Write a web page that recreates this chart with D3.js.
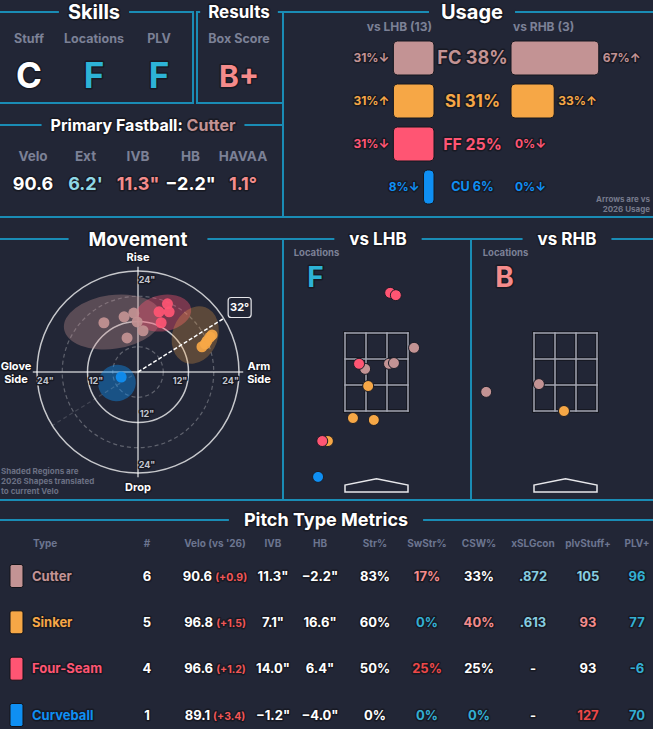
<!DOCTYPE html>
<html>
<head>
<meta charset="utf-8">
<script src="https://cdn.jsdelivr.net/npm/d3@7"></script>
<style>
  body { margin: 0; background: #222636; }
  svg text { font-family: Inter, "Noto Sans", sans-serif; font-weight: 700; }
  .o { stroke: #181a24; stroke-width: 3; paint-order: stroke; stroke-linejoin: round; }
</style>
</head>
<body>
<svg id="chart" width="653" height="729"></svg>
<script>
var skillLabels = ["Stuff", "Locations", "PLV"];
var skillGrades = ["C", "F", "F"];
var resultLabel = "Box Score";
var resultGrade = "B+";

var fastballName = "Cutter";
var fastballLabels = ["Velo", "Ext", "IVB", "HB", "HAVAA"];
var fastballValues = ["90.6", "6.2'", "11.3\"", "−2.2\"", "1.1°"];

var pitchCodes = ["FC", "SI", "FF", "CU"];
var pitchNames = ["Cutter", "Sinker", "Four-Seam", "Curveball"];

var usageAll = [38, 31, 25, 6];
var usageLHB = [31, 31, 31, 8];
var usageRHB = [67, 33, 0, 0];
var arrowsLHB = ["↓", "↑", "↓", "↓"];
var arrowsRHB = ["↑", "↑", "↓", "↓"];
var countLHB = 13, countRHB = 3;

// movement in inches: [HB (arm side +), IVB]
var moveFC = [[-8.1, 11.7], [-3.3, 13.1], [-1.0, 14.0], [-0.2, 11.9], [1.2, 9.8], [-2.6, 8.1]];
var moveSI = [[17.6, 8.8], [17.1, 8.3], [16.4, 7.4], [16.0, 6.7], [15.2, 6.0]];
var moveFF = [[7.0, 16.2], [5.0, 14.3], [7.4, 14.3], [5.5, 11.7]];
var moveCU = [[-4.0, -1.2]];
// 2026 shapes: [HB, IVB, half width, half height, tilt deg]
var shapeFC = [-6.0, 11.9, 11.7, 6.4, -8];
var shapeSI = [13.6, 8.8, 5.4, 7.0, 20];
var shapeFF = [6.0, 14.0, 6.7, 4.3, -10];
var shapeCU = [-5.0, -2.6, 4.5, 4.3, -20];
var armAngle = 32;

// locations in feet: [pitch, plate_x, plate_z]
var locLHB = [
  ["FF", 0.36, 4.53], ["FF", 0.51, 4.47], ["FC", 0.99, 3.12], ["FC", -0.30, 2.58],
  ["FF", -0.46, 2.71], ["FC", 0.33, 2.71], ["FC", 0.46, 2.73], ["SI", -0.22, 2.14],
  ["SI", -0.62, 1.32], ["SI", -0.07, 1.27], ["SI", -1.28, 0.73], ["FF", -1.43, 0.73],
  ["CU", -1.54, -0.19]
];
var locRHB = [["FC", -2.09, 1.99], ["FC", -0.70, 2.19], ["SI", -0.04, 1.50]];
var gradeLHB = "F", gradeRHB = "B";

// pitch type metrics
var tableHeaders = ["#", "Velo (vs '26)", "IVB", "HB", "Str%", "SwStr%", "CSW%", "xSLGcon", "plvStuff+", "PLV+"];
var pitchCounts = ["6", "5", "4", "1"];
var veloValues = ["90.6", "96.8", "96.6", "89.1"];
var veloDiffs = ["(+0.9)", "(+1.5)", "(+1.2)", "(+3.4)"];
var ivbValues = ["11.3\"", "7.1\"", "14.0\"", "−1.2\""];
var hbValues = ["−2.2\"", "16.6\"", "6.4\"", "−4.0\""];
var strPct = ["83%", "60%", "50%", "0%"];
var swStrPct = ["17%", "0%", "25%", "0%"];
var cswPct = ["33%", "40%", "25%", "0%"];
var xslgcon = [".872", ".613", "-", "-"];
var plvStuff = ["105", "93", "93", "127"];
var plvPlus = ["96", "77", "-6", "70"];

// ---- styles ----
var BG = "#222636", LINE = "#1a8cb5", GRAY = "#7c8196", WHITE = "#ffffff";
var pitchColor = { FC: "#c39394", SI: "#f6a746", FF: "#ff5573", CU: "#0f8ff3" };
var tone = { w: WHITE, t: "#33afd3", lb: "#86cde0", p: "#f48c8c", r: "#ee4848", c: "#8fd8e6" };
var gradeTone = { C: WHITE, F: "#2db3d6", B: "#f58b8b", "B+": "#f58b8b" };
var fastballTones = ["w", "c", "p", "w", "p"];
var cellTones = [
  ["w", "w", "w", "w", "p", "w", "lb", "lb", "t"],
  ["w", "w", "w", "w", "t", "p", "lb", "p", "t"],
  ["w", "w", "w", "w", "r", "w", "w", "w", "t"],
  ["w", "w", "w", "w", "t", "t", "w", "r", "t"]
];

var svg = d3.select("#chart");
svg.append("rect").attr("width", 653).attr("height", 729).attr("fill", BG);

// boxed panel with its title sitting on the top border
function panel(x0, y0, x1, y1, title, tx, size, pad) {
  svg.append("rect")
    .attr("x", x0).attr("y", y0).attr("width", x1 - x0).attr("height", y1 - y0)
    .attr("fill", "none").attr("stroke", LINE).attr("stroke-width", 2);
  var bg = svg.append("rect").attr("fill", BG);
  var t = svg.append("text")
    .attr("class", "o").attr("x", tx).attr("y", y0).attr("dy", "0.35em")
    .attr("text-anchor", "middle").attr("font-size", size).attr("fill", WHITE);
  title.forEach(function(p) { t.append("tspan").attr("fill", p[1]).text(p[0]); });
  var w = t.node().getComputedTextLength();
  bg.attr("x", tx - w / 2 - pad).attr("y", y0 - 3).attr("width", w + 2 * pad).attr("height", 6);
}

function label(x, y, txt, size, color, anchor, outline) {
  return svg.append("text")
    .attr("class", outline ? "o" : null)
    .attr("x", x).attr("y", y).attr("dy", "0.35em")
    .attr("text-anchor", anchor || "middle")
    .attr("font-size", size).attr("fill", color).text(txt);
}

// ---- top row ----
panel(-5, 12, 193, 103, [["Skills", WHITE]], 94, 20, 9);
panel(197, 12, 283, 103, [["Results", WHITE]], 239, 17, 8);
panel(-5, 125, 283, 217, [["Primary Fastball: ", WHITE], [fastballName, pitchColor.FC]], 143, 16, 9);
panel(283, 12, 660, 217, [["Usage", WHITE]], 472, 20, 12);

var skillX = d3.scalePoint().domain(skillLabels).range([29, 159]);
skillLabels.forEach(function(s, i) {
  label(skillX(s), 39, s, 12.5, GRAY);
  label(skillX(s), 76, skillGrades[i], 35, gradeTone[skillGrades[i]], "middle", true);
});
label(239, 39, resultLabel, 12.5, GRAY);
label(239, 76, resultGrade, 30, gradeTone[resultGrade], "middle", true);

var fbX = d3.scalePoint().domain(fastballLabels).range([33, 243]);
fastballLabels.forEach(function(s, i) {
  label(fbX(s), 156, s, 13.5, GRAY);
  label(fbX(s), 184, fastballValues[i], 18, tone[fastballTones[i]], "middle", true);
});

// usage bars
var uW = d3.scaleLinear().domain([0, 100]).range([0, 131]);
var uY = d3.scaleBand().domain(pitchCodes).range([41, 204]).paddingInner(9 / 43);
var uSize = d3.scaleLinear().domain([0, 40]).range([11.5, 18.5]);
var lhbEdge = 434, rhbEdge = 511;

label(lhbEdge - 2, 27, "vs LHB (" + countLHB + ")", 12, GRAY, "end");
label(rhbEdge + 2, 27, "vs RHB (" + countRHB + ")", 12, GRAY, "start");

var rows = svg.append("g").selectAll("g").data(pitchCodes).enter().append("g");
rows.append("rect")
  .attr("x", function(d, i) { return lhbEdge - uW(usageLHB[i]); })
  .attr("y", function(d) { return uY(d); })
  .attr("width", function(d, i) { return uW(usageLHB[i]); })
  .attr("height", uY.bandwidth())
  .attr("rx", 4).attr("fill", function(d) { return pitchColor[d]; })
  .attr("stroke", "#15171f").attr("stroke-width", 1);
rows.append("rect")
  .attr("x", rhbEdge)
  .attr("y", function(d) { return uY(d); })
  .attr("width", function(d, i) { return uW(usageRHB[i]); })
  .attr("height", uY.bandwidth())
  .attr("rx", 4).attr("fill", function(d) { return pitchColor[d]; })
  .attr("stroke", "#15171f").attr("stroke-width", 1)
  .style("display", function(d, i) { return usageRHB[i] > 0 ? null : "none"; });
pitchCodes.forEach(function(d, i) {
  var cy = uY(d) + uY.bandwidth() / 2;
  label(lhbEdge - uW(usageLHB[i]) - 4, cy, usageLHB[i] + "%" + arrowsLHB[i], 12, pitchColor[d], "end", true);
  label(rhbEdge + uW(usageRHB[i]) + 4, cy, usageRHB[i] + "%" + arrowsRHB[i], 12, pitchColor[d], "start", true);
  label(472.5, cy, d + " " + usageAll[i] + "%", uSize(usageAll[i]), pitchColor[d], "middle", true);
});
label(650, 199, "Arrows are vs", 8, "#767a8c", "end");
label(650, 209, "2026 Usage", 8, "#767a8c", "end");

// ---- movement ----
panel(-5, 239, 283, 500, [["Movement", WHITE]], 138, 19, 20);
panel(283, 239, 471, 500, [["vs LHB", WHITE]], 378, 17, 15);
panel(471, 239, 660, 500, [["vs RHB", WHITE]], 567, 17, 15);

var mcx = 138, mcy = 372, mR = 101;
var mx = d3.scaleLinear().domain([-24, 24]).range([mcx - mR, mcx + mR]);
var my = d3.scaleLinear().domain([-24, 24]).range([mcy + mR, mcy - mR]);
var mv = svg.append("g");

[6, 18].forEach(function(r) {
  mv.append("circle").attr("cx", mcx).attr("cy", mcy).attr("r", mx(r) - mx(0))
    .attr("fill", "none").attr("stroke", "rgba(255,255,255,0.28)").attr("stroke-width", 1.2)
    .attr("stroke-dasharray", "4,3");
});
[12, 24].forEach(function(r) {
  mv.append("circle").attr("cx", mcx).attr("cy", mcy).attr("r", mx(r) - mx(0))
    .attr("fill", "none").attr("stroke", "rgba(255,255,255,0.75)").attr("stroke-width", 1.5);
});
mv.append("line").attr("x1", mx(-25)).attr("x2", mx(25)).attr("y1", mcy).attr("y2", mcy)
  .attr("stroke", "rgba(255,255,255,0.7)").attr("stroke-width", 1.5);
mv.append("line").attr("y1", my(25)).attr("y2", my(-25)).attr("x1", mcx).attr("x2", mcx)
  .attr("stroke", "rgba(255,255,255,0.7)").attr("stroke-width", 1.5);

[-24, -12, 12, 24].forEach(function(v) {
  var inward = v < 0 ? 2 : -2;
  label(mx(v + inward), mcy + 9, Math.abs(v) + "\"", 9, "#c3c6d0", "middle", true);
  if (v !== 12) label(mcx + 9, my(v + inward), Math.abs(v) + "\"", 9, "#c3c6d0", "middle", true);
});

// shaded regions
[["FC", shapeFC, 0.34], ["FF", shapeFF, 0.38], ["SI", shapeSI, 0.27], ["CU", shapeCU, 0.42]].forEach(function(s) {
  var e = s[1];
  mv.append("ellipse")
    .attr("cx", mx(e[0])).attr("cy", my(e[1]))
    .attr("rx", mx(e[2]) - mx(0)).attr("ry", my(0) - my(e[3]))
    .attr("transform", "rotate(" + e[4] + "," + mx(e[0]) + "," + my(e[1]) + ")")
    .attr("fill", pitchColor[s[0]]).attr("fill-opacity", s[2]);
});

var rad = armAngle * Math.PI / 180;
mv.append("line")
  .attr("x1", mcx).attr("y1", mcy)
  .attr("x2", mx(-25 * Math.cos(rad))).attr("y2", my(-25 * Math.sin(rad)))
  .attr("stroke", "rgba(255,255,255,0.15)").attr("stroke-width", 1.2).attr("stroke-dasharray", "4,3");
mv.append("line")
  .attr("x1", mcx).attr("y1", mcy)
  .attr("x2", mx(24 * Math.cos(rad))).attr("y2", my(24 * Math.sin(rad)))
  .attr("stroke", WHITE).attr("stroke-width", 1.5).attr("stroke-dasharray", "4,2");

var moveAll = [["FC", moveFC], ["FF", moveFF], ["SI", moveSI], ["CU", moveCU]];
moveAll.forEach(function(m) {
  mv.append("g").selectAll("circle").data(m[1]).enter().append("circle")
    .attr("cx", function(d) { return mx(d[0]); })
    .attr("cy", function(d) { return my(d[1]); })
    .attr("r", 5.5).attr("fill", pitchColor[m[0]]).attr("fill-opacity", 0.92);
});

var bx = mx(24 * Math.cos(rad)) + 16, by = my(24 * Math.sin(rad)) - 11;
mv.append("rect").attr("x", bx - 11.5).attr("y", by - 10).attr("width", 23).attr("height", 20)
  .attr("rx", 3).attr("fill", BG).attr("stroke", "#e6e6ea").attr("stroke-width", 1.2);
label(bx, by, armAngle + "°", 11, WHITE);

label(mcx, my(24) - 14, "Rise", 11, WHITE, "middle", true);
label(mcx, my(-24) + 14, "Drop", 11, WHITE, "middle", true);
label(16, mcy - 6, "Glove", 11, WHITE, "middle", true);
label(16, mcy + 7, "Side", 11, WHITE, "middle", true);
label(259, mcy - 6, "Arm", 11, WHITE, "middle", true);
label(259, mcy + 7, "Side", 11, WHITE, "middle", true);
label(1, 471, "Shaded Regions are", 8, "#6b7083", "start");
label(1, 481, "2026 Shapes translated", 8, "#6b7083", "start");
label(1, 491, "to current Velo", 8, "#6b7083", "start");

// ---- locations ----
function locations(cx, pts, grade) {
  var lx = d3.scaleLinear().domain([-0.83, 0.83]).range([cx - 31.5, cx + 31.5]);
  var ly = d3.scaleLinear().domain([1.5, 3.5]).range([411, 333]);
  var g = svg.append("g");
  label(cx - 60, 253, "Locations", 9.5, GRAY);
  label(cx - 61, 277, grade, 28, gradeTone[grade], "middle", true);
  var xs = d3.range(4).map(function(i) { return -0.83 + i * 1.66 / 3; });
  var zs = d3.range(4).map(function(i) { return 1.5 + i * 2 / 3; });
  [["#14161e", 3.5], ["#a3a6b3", 1.5]].forEach(function(st) {
    xs.forEach(function(x) {
      g.append("line").attr("x1", lx(x)).attr("x2", lx(x)).attr("y1", ly(1.5)).attr("y2", ly(3.5))
        .attr("stroke", st[0]).attr("stroke-width", st[1]).attr("stroke-linecap", "square");
    });
    zs.forEach(function(z) {
      g.append("line").attr("y1", ly(z)).attr("y2", ly(z)).attr("x1", lx(-0.83)).attr("x2", lx(0.83))
        .attr("stroke", st[0]).attr("stroke-width", st[1]).attr("stroke-linecap", "square");
    });
  });
  var plate = [[-0.83, -0.58], [0.83, -0.58], [0.83, -0.40], [0, -0.24], [-0.83, -0.40]];
  g.append("polygon")
    .attr("points", plate.map(function(p) { return lx(p[0]) + "," + ly(p[1]); }).join(" "))
    .attr("fill", "none").attr("stroke", "#e8e8ec").attr("stroke-width", 1.5);
  g.append("g").selectAll("circle").data(pts).enter().append("circle")
    .attr("cx", function(d) { return lx(d[1]); })
    .attr("cy", function(d) { return ly(d[2]); })
    .attr("r", 5.5).attr("fill", function(d) { return pitchColor[d[0]]; })
    .attr("stroke", "#1a1c27").attr("stroke-width", 1);
}
locations(376.5, locLHB, gradeLHB);
locations(565.5, locRHB, gradeRHB);

// ---- pitch type metrics ----
panel(-5, 520, 660, 760, [["Pitch Type Metrics", WHITE]], 326, 18, 15);
var colX = [147, 215, 273, 320, 375, 427, 479, 533, 588, 637];
var rowY = d3.scalePoint().domain(pitchNames).range([576, 715]);

label(33, 543, "Type", 10, "#6c7590", "start");
tableHeaders.forEach(function(h, j) { label(colX[j], 543, h, 10, "#6c7590"); });

var cols = [pitchCounts, null, ivbValues, hbValues, strPct, swStrPct, cswPct, xslgcon, plvStuff, plvPlus];
pitchNames.forEach(function(name, i) {
  var y = rowY(name), code = pitchCodes[i];
  svg.append("rect").attr("x", 10).attr("y", y - 11.5).attr("width", 13).attr("height", 23)
    .attr("rx", 2).attr("fill", pitchColor[code]).attr("stroke", "#121319").attr("stroke-width", 1);
  label(32, y, name, 13, pitchColor[code], "start", true);
  var v = label(colX[1], y, "", 13, WHITE, "middle", true);
  v.append("tspan").text(veloValues[i] + " ");
  v.append("tspan").attr("font-size", 10.5).attr("fill", "#f25656").text(veloDiffs[i]);
  cols.forEach(function(c, j) {
    if (!c) return;
    var t = j === 0 ? "w" : cellTones[i][j - 1];
    label(colX[j], y, c[i], 13, tone[t], "middle", true);
  });
});
</script>
</body>
</html>
